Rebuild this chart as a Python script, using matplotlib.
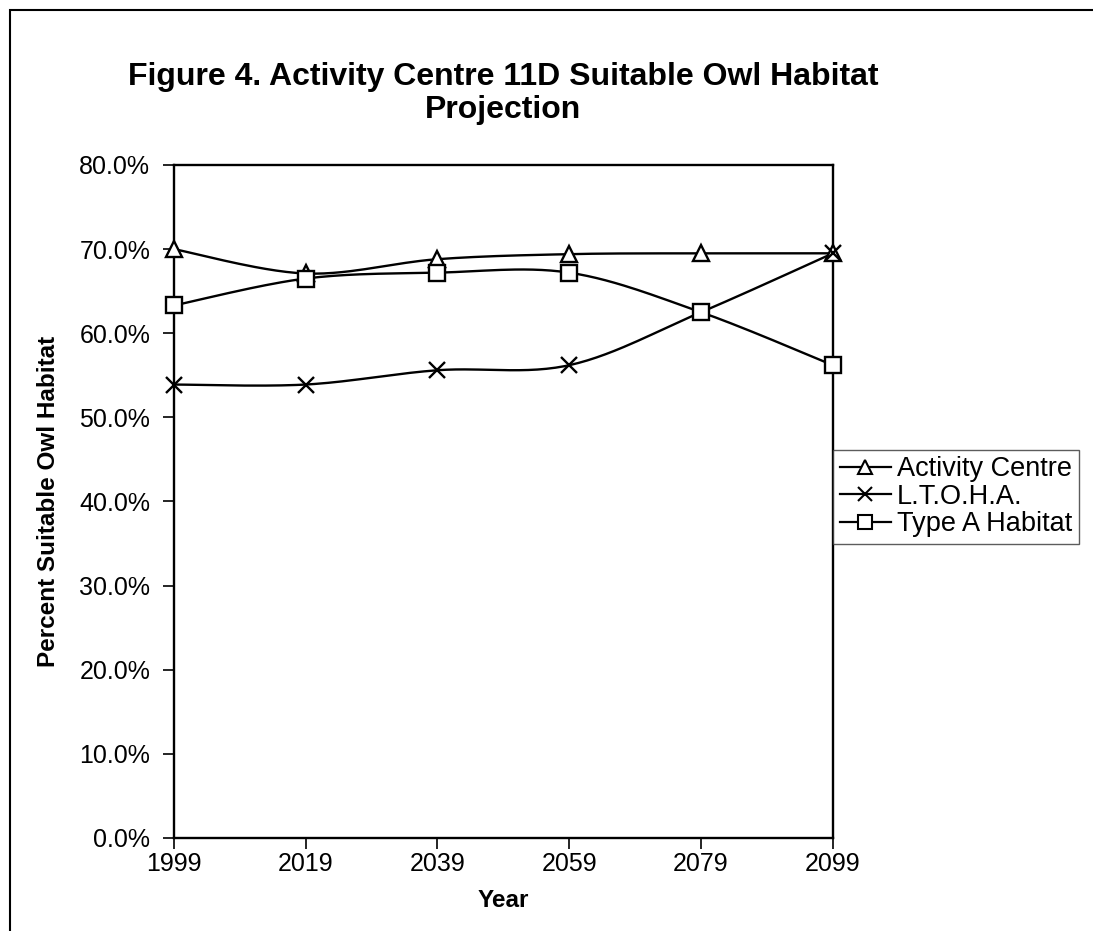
import numpy as np
import matplotlib.pyplot as plt
from matplotlib.patches import Rectangle
from matplotlib.ticker import FuncFormatter

plt.rcParams['font.family'] = ['Liberation Sans', 'DejaVu Sans']

years = [1999, 2019, 2039, 2059, 2079, 2099]
activity_centre = [70.0, 67.1, 68.8, 69.4, 69.5, 69.5]
ltoha = [53.9, 53.9, 55.6, 56.2, 62.5, 69.5]
type_a = [63.3, 66.5, 67.2, 67.2, 62.5, 56.2]

series_names = ['Activity Centre', 'L.T.O.H.A.', 'Type A Habitat']
series_markers = ['^', 'x', 's']


def smooth(x, y, n=30):
    # excel style smoothed line (bezier through the points)
    x = np.asarray(x, float)
    y = np.asarray(y, float)
    px, py = [x[0]], [y[0]]
    t = np.linspace(0, 1, n)[1:]
    for i in range(len(x) - 1):
        i0 = max(i - 1, 0)
        i3 = min(i + 2, len(x) - 1)
        c1x = x[i] + (x[i + 1] - x[i0]) / 6
        c1y = y[i] + (y[i + 1] - y[i0]) / 6
        c2x = x[i + 1] - (x[i3] - x[i]) / 6
        c2y = y[i + 1] - (y[i3] - y[i]) / 6
        bx = (1 - t)**3 * x[i] + 3 * (1 - t)**2 * t * c1x + 3 * (1 - t) * t**2 * c2x + t**3 * x[i + 1]
        by = (1 - t)**3 * y[i] + 3 * (1 - t)**2 * t * c1y + 3 * (1 - t) * t**2 * c2y + t**3 * y[i + 1]
        px.extend(bx)
        py.extend(by)
    return np.array(px), np.array(py)


fig = plt.figure(figsize=(10.93, 9.31), dpi=100)
ax = fig.add_axes([0.159, 0.0999, 0.603, 0.7229])

xpos = np.arange(len(years))
handles = []
for vals, name, mk in zip([activity_centre, ltoha, type_a], series_names, series_markers):
    sx, sy = smooth(xpos, vals)
    ax.plot(sx, sy, color='black', lw=1.7, zorder=2)
    ax.plot(xpos, vals, linestyle='none', marker=mk, markersize=11 if mk != 'x' else 12,
            markerfacecolor='white', markeredgecolor='black', markeredgewidth=1.7,
            zorder=3, clip_on=False)
    h, = ax.plot([], [], color='black', lw=1.6, marker=mk, markersize=10,
                 markerfacecolor='white', markeredgecolor='black', markeredgewidth=1.5)
    handles.append(h)

ax.set_xlim(0, len(years) - 1)
ax.set_ylim(0, 80)
ax.set_xticks(xpos)
ax.set_xticklabels([str(y) for y in years])
ax.set_yticks(np.arange(0, 81, 10))
ax.yaxis.set_major_formatter(FuncFormatter(lambda v, p: f'{v:.1f}%'))
ax.tick_params(axis='both', direction='out', length=8, width=1.2, labelsize=18)
ax.tick_params(axis='y', pad=9)
ax.tick_params(axis='x', pad=2)
for s in ax.spines.values():
    s.set_linewidth(1.7)

ax.set_xlabel('Year', fontsize=17.5, fontweight='bold')
ax.set_ylabel('Percent Suitable Owl Habitat', fontsize=17.5, fontweight='bold')
ax.xaxis.set_label_coords(0.5, -0.076)
ax.yaxis.set_label_coords(-0.172, 0.5)

fig.text(0.46, 0.8995, 'Figure 4. Activity Centre 11D Suitable Owl Habitat\nProjection',
         ha='center', va='center', fontsize=23, fontweight='bold', linespacing=1.12)

leg = fig.legend(handles, series_names, loc='upper left', bbox_to_anchor=(0.762, 0.517),
                 fontsize=19.5, frameon=True, fancybox=False, edgecolor='#333333',
                 handlelength=1.9, handletextpad=0.2, borderpad=0.25, labelspacing=0.05,
                 borderaxespad=0)
leg.get_frame().set_linewidth(1.0)

fig.patches.append(Rectangle((10 / 1093, -0.05), 1.2, 1 - 10 / 931 + 0.05,
                             transform=fig.transFigure, fill=False, edgecolor='black', lw=1.5))

fig.savefig('out.png', dpi=100)
